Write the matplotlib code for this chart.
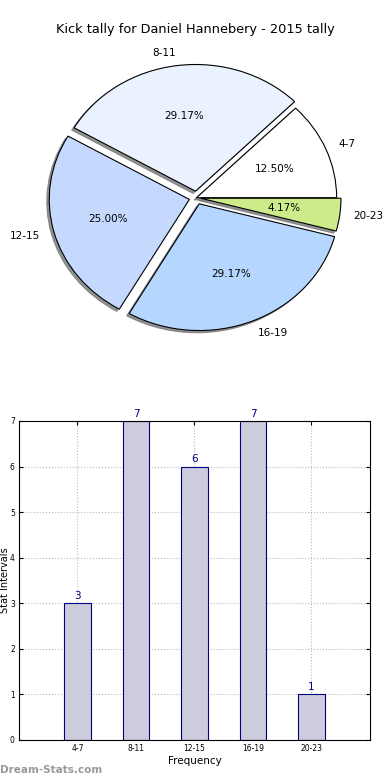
import numpy as np
import matplotlib
matplotlib.use("Agg")
import matplotlib.pyplot as plt

labels = ["4-7", "8-11", "12-15", "16-19", "20-23"]
counts = [3, 7, 6, 7, 1]
pie_colors = ["#ffffff", "#eaf1ff", "#c5d9ff", "#b5d7ff", "#cdeb8b"]
explode = [0, 0.05, 0.05, 0.05, 0.03]

fig = plt.figure(figsize=(3.9, 7.8), dpi=100)

# pie (stretched, not square)
ax1 = fig.add_axes([0.032, 0.535, 0.936, 0.423])
wedges, texts, autotexts = ax1.pie(counts, labels=labels, colors=pie_colors,
                                   explode=explode, autopct="%.2f%%", radius=0.96,
                                   center=(0.01, 0),
                                   shadow=dict(ox=-0.012, oy=-0.012, color="#777777", alpha=0.8),
                                   wedgeprops=dict(edgecolor="black", linewidth=0.8),
                                   textprops=dict(fontsize=7.5))
ax1.set_aspect("auto")
ax1.set_xlim(-1.25, 1.25)
ax1.set_ylim(-1.25, 1.25)
fig.text(0.5, 1 - 30 / 780, "Kick tally for Daniel Hannebery - 2015 tally",
         ha="center", va="center", fontsize=9.3)

# bars
ax2 = fig.add_axes([0.0487, 0.0513, 0.9, 0.409])
x = np.arange(len(labels))
bars = ax2.bar(x, counts, width=0.45, color="#ccccdd", edgecolor="navy", linewidth=0.8, zorder=2)
for xi, v in zip(x, counts):
    ax2.text(xi, v + 0.05, str(v), ha="center", va="bottom", color="navy", fontsize=7.5)
ax2.set_xlim(-1, 5)
ax2.set_ylim(0, 7)
ax2.set_xticks(x)
ax2.set_xticklabels(labels, fontsize=5.5)
ax2.set_yticks(range(0, 8))
ax2.tick_params(axis="y", labelsize=5.5)
ax2.tick_params(direction="in", length=3, pad=3, top=True, right=True)
ax2.grid(True, linestyle=":", color="#bbbbbb", linewidth=0.8, zorder=0)
ax2.set_axisbelow(True)
ax2.set_xlabel("Frequency", fontsize=7.5, labelpad=2)
ax2.set_ylabel("Stat Intervals", fontsize=7)
ax2.yaxis.set_label_coords(-0.026, 0.5)

fig.text(0.0, 1 - 770 / 780, "Dream-Stats.com", color="#999999", fontsize=7.5,
         fontweight="bold", ha="left", va="center")

fig.savefig("out.png", dpi=100)
